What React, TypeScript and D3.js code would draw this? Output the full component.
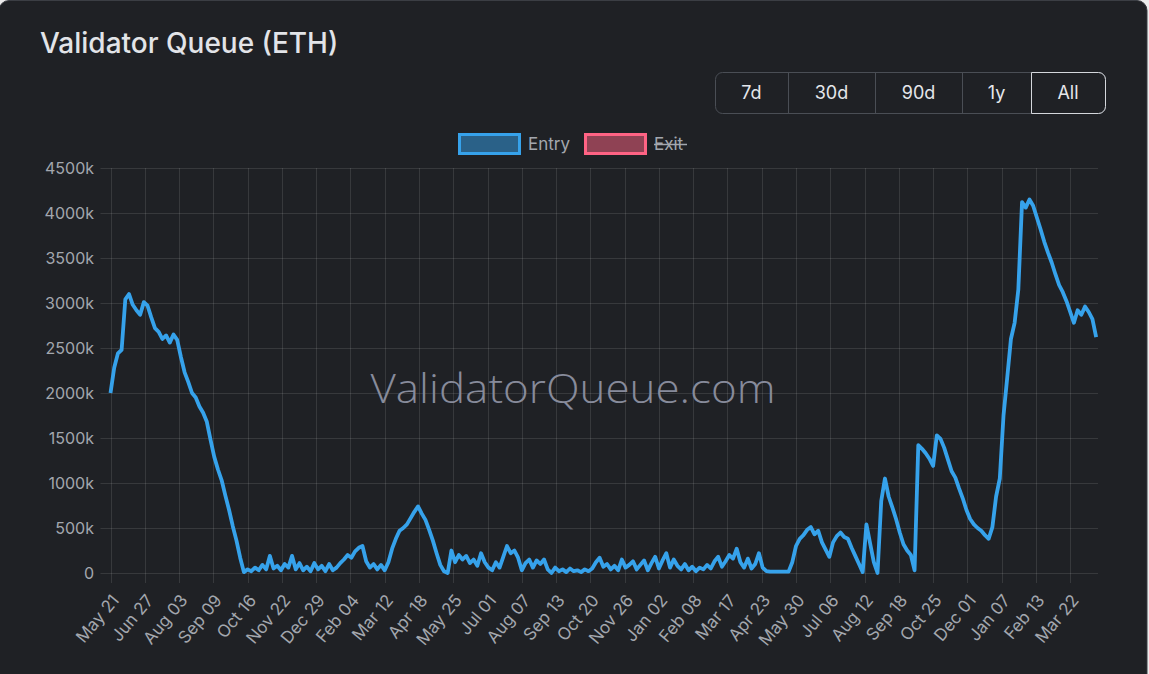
import React from "react";
import * as d3 from "d3";

const W = 1149;
const H = 674;

const title = "Validator Queue (ETH)";
const rangeButtons = ["7d", "30d", "90d", "1y", "All"];
const selectedRange = "All";
const seriesNames = ["Entry", "Exit"];

// x tick labels, one every 37 days starting 2023-05-21
const xTickLabels = [
  "May 21", "Jun 27", "Aug 03", "Sep 09", "Oct 16", "Nov 22", "Dec 29", "Feb 04",
  "Mar 12", "Apr 18", "May 25", "Jul 01", "Aug 07", "Sep 13", "Oct 20", "Nov 26",
  "Jan 02", "Feb 08", "Mar 17", "Apr 23", "May 30", "Jul 06", "Aug 12", "Sep 18",
  "Oct 25", "Dec 01", "Jan 07", "Feb 13", "Mar 22",
];
const TICK_EVERY_DAYS = 37;
const TOTAL_DAYS = 1066;
const STEP_DAYS = 4;

const yTicks = [0, 500, 1000, 1500, 2000, 2500, 3000, 3500, 4000, 4500];

// Entry queue in thousands of ETH, one sample every 4 days
const entryValues = [
  2000, 2280, 2440, 2480, 3040, 3100, 2980, 2920, 2870, 3010,
  2970, 2840, 2720, 2680, 2600, 2640, 2560, 2650, 2590, 2400,
  2230, 2120, 2000, 1950, 1850, 1780, 1680, 1480, 1290, 1150,
  1030, 860, 700, 520, 360, 170, 10, 40, 20, 60,
  30, 90, 40, 190, 50, 80, 30, 100, 60, 190,
  40, 110, 30, 70, 20, 110, 40, 80, 20, 100,
  30, 60, 110, 150, 200, 170, 240, 280, 300, 130,
  60, 100, 40, 90, 30, 120, 270, 380, 470, 500,
  540, 610, 680, 740, 660, 590, 480, 360, 220, 90,
  20, 0, 250, 120, 200, 150, 190, 110, 150, 80,
  220, 120, 60, 30, 120, 60, 180, 300, 220, 250,
  170, 30, 110, 150, 60, 140, 100, 150, 40, 0,
  60, 20, 40, 10, 50, 20, 30, 10, 40, 20,
  50, 120, 170, 70, 100, 40, 80, 30, 150, 60,
  90, 130, 40, 90, 140, 30, 110, 180, 50, 140,
  220, 60, 150, 80, 40, 100, 30, 70, 20, 60,
  40, 90, 50, 130, 180, 70, 130, 200, 160, 270,
  120, 60, 160, 50, 100, 220, 60, 20, 15, 15,
  15, 15, 15, 15, 120, 300, 380, 420, 480, 510,
  430, 470, 340, 260, 180, 340, 410, 450, 400, 380,
  280, 190, 100, 10, 540, 330, 120, 0, 800, 1050,
  850, 730, 600, 450, 320, 250, 200, 30, 1420, 1380,
  1330, 1270, 1190, 1530, 1490, 1390, 1260, 1130, 1060, 940,
  830, 700, 600, 540, 500, 470, 420, 380, 510, 850,
  1050, 1750, 2170, 2600, 2780, 3150, 4120, 4060, 4150, 4080,
  3950, 3820, 3680, 3560, 3450, 3320, 3200, 3120, 3020, 2900,
  2780, 2920, 2870, 2960, 2900, 2820, 2620,
];

const BG = "#1f2125";
const GRID = "rgba(255,255,255,0.11)";
const LABEL = "#a3a7ae";
const ENTRY = "#36a2eb";
const EXIT = "#ff6384";
const FONT = "Inter, 'Helvetica Neue', Arial, sans-serif";

export default function App() {
  const left = 110.5;
  const right = 1098;
  const top = 168;
  const bottom = 573;

  const x = d3.scaleLinear().domain([0, TOTAL_DAYS]).range([left, right]);
  const y = d3.scaleLinear().domain([0, 4500]).range([bottom, top]);

  const line = d3
    .line<number>()
    .x((_, i) => x(i * STEP_DAYS))
    .y((v) => y(v));

  // buttons layout
  const btnWidths = [73, 87, 87, 69, 74];
  const btnX0 = 715;
  const btnY = 72;
  const btnH = 41;
  const btnStarts = btnWidths.reduce<number[]>((acc, w, i) => {
    acc.push(i === 0 ? btnX0 : acc[i - 1] + btnWidths[i - 1]);
    return acc;
  }, []);
  const btnTotal = d3.sum(btnWidths);

  return (
    <div style={{ position: "fixed", left: 0, top: 0, width: W, height: H, background: "#ececec" }}>
      <svg width={W} height={H} style={{ display: "block" }}>
        <rect x={-1} y={0.5} width={1148} height={H + 20} rx={10} fill={BG} stroke="#3b3e44" />
        <text x={40} y={53} fill="#e2e4e8" fontSize={28} fontWeight={500} fontFamily={FONT}>
          {title}
        </text>

        {/* range buttons */}
        <g fontFamily={FONT} fontSize={18} fill="#e5e7eb">
          <rect x={btnX0 + 0.5} y={btnY + 0.5} width={btnTotal} height={btnH} rx={7} fill="none" stroke="#4a4e55" />
          {rangeButtons.map((b, i) => (
            <g key={b}>
              {i > 0 && (
                <line x1={btnStarts[i] + 0.5} x2={btnStarts[i] + 0.5} y1={btnY + 0.5} y2={btnY + btnH + 0.5} stroke="#4a4e55" />
              )}
              {b === selectedRange && (
                <path
                  d={`M${btnStarts[i] + 0.5},${btnY + 0.5} H${btnStarts[i] + btnWidths[i] - 6.5} a7,7 0 0 1 7,7 V${btnY + btnH - 6.5} a7,7 0 0 1 -7,7 H${btnStarts[i] + 0.5} Z`}
                  fill="none"
                  stroke="#d4d7dc"
                />
              )}
              <text x={btnStarts[i] + btnWidths[i] / 2} y={btnY + 27} textAnchor="middle" fill="#e5e7eb">
                {b}
              </text>
            </g>
          ))}
        </g>

        {/* legend */}
        <g fontFamily={FONT} fontSize={17}>
          <rect x={459.5} y={134.5} width={60} height={19} fill="rgba(54,162,235,0.5)" stroke={ENTRY} strokeWidth={3} />
          <text x={528} y={150} fill={LABEL}>{seriesNames[0]}</text>
          <rect x={585.5} y={134.5} width={60} height={19} fill="rgba(255,99,132,0.5)" stroke={EXIT} strokeWidth={3} />
          <text x={654} y={150} fill={LABEL}>{seriesNames[1]}</text>
          <line x1={654} x2={687} y1={144.5} y2={144.5} stroke={LABEL} strokeWidth={1.5} />
        </g>

        {/* grid */}
        <g>
          {yTicks.map((t) => (
            <line key={"gy" + t} x1={left - 10} x2={right} y1={Math.round(y(t)) + 0.5} y2={Math.round(y(t)) + 0.5} stroke={GRID} />
          ))}
          {xTickLabels.map((l, k) => (
            <line
              key={"gx" + k}
              x1={Math.round(x(k * TICK_EVERY_DAYS)) + 0.5}
              x2={Math.round(x(k * TICK_EVERY_DAYS)) + 0.5}
              y1={top}
              y2={bottom + 10}
              stroke={GRID}
            />
          ))}
        </g>

        {/* y labels */}
        <g fontFamily={FONT} fontSize={16} fill={LABEL} textAnchor="end">
          {yTicks.map((t) => (
            <text key={"yl" + t} x={94} y={y(t) + 5.5}>
              {t === 0 ? "0" : `${t}k`}
            </text>
          ))}
        </g>

        {/* x labels */}
        <g fontFamily={FONT} fontSize={17} fill={LABEL} textAnchor="end">
          {xTickLabels.map((l, k) => {
            const tx = x(k * TICK_EVERY_DAYS) + 5;
            const ty = 597;
            return (
              <text key={"xl" + k} transform={`translate(${tx},${ty}) rotate(-50)`} dy="0.35em">
                {l}
              </text>
            );
          })}
        </g>

        {/* watermark */}
        <text
          x={573}
          y={403}
          textAnchor="middle"
          fontFamily="'Open Sans', 'Noto Sans', sans-serif"
          fontWeight={300}
          fontSize={41}
          fill="#878b9b"
          textLength={405}
          lengthAdjust="spacingAndGlyphs"
        >
          ValidatorQueue.com
        </text>

        {/* entry line */}
        <path d={line(entryValues) || ""} fill="none" stroke={ENTRY} strokeWidth={3.8} strokeLinejoin="round" />
      </svg>
    </div>
  );
}
